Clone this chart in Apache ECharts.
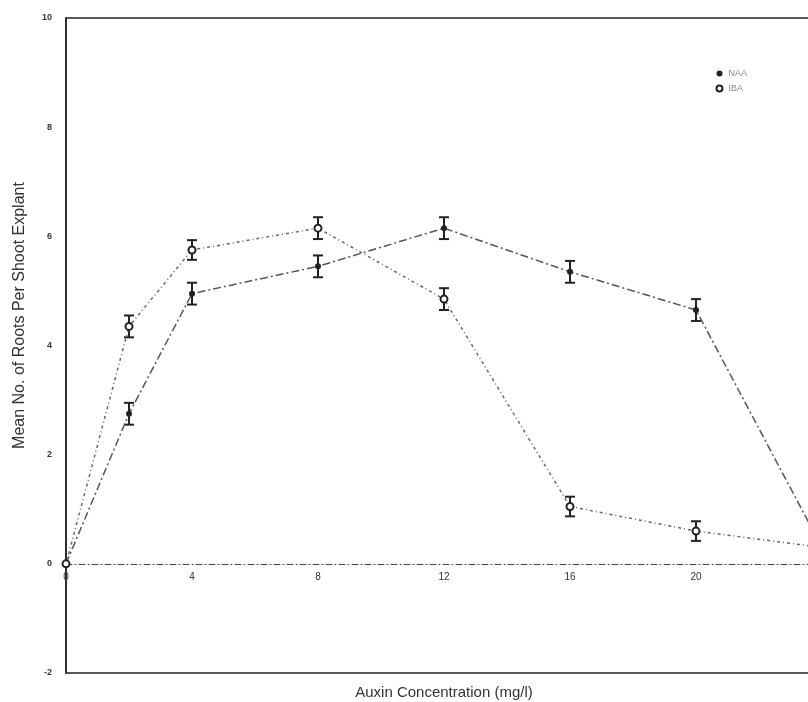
<!DOCTYPE html>
<html>
<head>
<meta charset="utf-8">
<script src="https://cdn.jsdelivr.net/npm/echarts@6/dist/echarts.min.js"></script>
<style>
html,body{margin:0;padding:0;background:#fff;}
#main{width:808px;height:702px;}
</style>
</head>
<body>
<div id="main"></div>
<script>
// auxin concentration (mg/l)
var concentration = [0, 2, 4, 8, 12, 16, 20, 24];
// mean roots per shoot explant, with standard error
var naaMean = [0, 2.75, 4.95, 5.45, 6.15, 5.35, 4.65, 0.3];
var naaErr  = [0, 0.2, 0.2, 0.2, 0.2, 0.2, 0.2, 0];
var ibaMean = [0, 4.35, 5.75, 6.15, 4.85, 1.05, 0.6, 0.3];
var ibaErr  = [0, 0.2, 0.18, 0.2, 0.2, 0.18, 0.18, 0];
var xTicks = [0, 4, 8, 12, 16, 20, 24];
var yTicks = [-2, 0, 2, 4, 6, 8, 10];

function pairs(xs, ys){
    var out = [];
    for (var i = 0; i < xs.length; i++) out.push([xs[i], ys[i]]);
    return out;
}
function errData(xs, ys, es){
    var out = [];
    for (var i = 0; i < xs.length; i++) {
        if (es[i] > 0) out.push([xs[i], ys[i] - es[i], ys[i] + es[i]]);
    }
    return out;
}
function renderErr(params, api){
    var lo = api.coord([api.value(0), api.value(1)]);
    var hi = api.coord([api.value(0), api.value(2)]);
    var w = 5;
    var st = {stroke: '#222', lineWidth: 2};
    return {
        type: 'group',
        children: [
            {type: 'line', shape: {x1: lo[0], y1: lo[1], x2: hi[0], y2: hi[1]}, style: st},
            {type: 'line', shape: {x1: lo[0]-w, y1: lo[1], x2: lo[0]+w, y2: lo[1]}, style: st},
            {type: 'line', shape: {x1: hi[0]-w, y1: hi[1], x2: hi[0]+w, y2: hi[1]}, style: st}
        ]
    };
}

var dom = document.getElementById('main');
var myChart = echarts.init(dom);
var option = {
    animation: false,
    textStyle: {fontFamily: 'Liberation Sans, Arial, sans-serif'},
    grid: {
        left: 66, top: 18, bottom: 29, right: -14,
        outerBoundsMode: 'none',
        containLabel: false,
        show: true, borderColor: '#222', borderWidth: 1.5
    },
    legend: {
        orient: 'vertical',
        right: 56,
        top: 64,
        itemWidth: 8,
        itemHeight: 6,
        itemGap: 6,
        textStyle: {fontSize: 9, color: '#888'},
        data: [{name: 'NAA', icon: 'circle'}, {name: 'IBA', icon: 'emptyCircle'}]
    },
    xAxis: {
        type: 'value',
        min: 0, max: 24, interval: 4,
        name: 'Auxin Concentration (mg/l)',
        nameLocation: 'middle',
        nameGap: 12,
        nameTextStyle: {fontSize: 15, color: '#333'},
        axisLine: {onZero: true, lineStyle: {color: '#444', type: [6, 3, 1, 3], width: 1}},
        axisTick: {show: false},
        splitLine: {show: false},
        axisLabel: {
            fontSize: 10, color: '#333', margin: -101,
            formatter: function(v){ return xTicks.indexOf(v) >= 0 ? String(v) : ''; }
        }
    },
    yAxis: {
        type: 'value',
        min: -2, max: 10, interval: 2,
        name: 'Mean No. of Roots Per Shoot Explant',
        nameLocation: 'middle',
        nameGap: 38,
        nameTextStyle: {fontSize: 16, color: '#333', padding: [0, 0, 0, 60]},
        axisLine: {show: true, onZero: false, lineStyle: {color: '#222', width: 1.5}},
        axisTick: {show: false},
        splitLine: {show: false},
        axisLabel: {
            fontSize: 9, color: '#333', margin: 14, fontWeight: 'bold',
            formatter: function(v){ return yTicks.indexOf(v) >= 0 ? String(v) : ''; }
        }
    },
    series: [
        {
            name: 'NAA',
            type: 'line',
            data: pairs(concentration, naaMean),
            symbol: 'circle',
            symbolSize: 6,
            itemStyle: {color: '#222'},
            lineStyle: {color: '#555', width: 1.5, type: [8, 3, 2, 3]},
            z: 3
        },
        {
            name: 'IBA',
            type: 'line',
            data: pairs(concentration, ibaMean),
            symbol: 'emptyCircle',
            symbolSize: 7,
            itemStyle: {color: '#222', borderWidth: 1.5},
            lineStyle: {color: '#666', width: 1.5, type: [3, 3, 1, 3]},
            z: 3
        },
        {
            name: 'NAA err',
            type: 'custom',
            renderItem: renderErr,
            data: errData(concentration, naaMean, naaErr),
            z: 2
        },
        {
            name: 'IBA err',
            type: 'custom',
            renderItem: renderErr,
            data: errData(concentration, ibaMean, ibaErr),
            z: 2
        }
    ]
};
myChart.setOption(option, true);
</script>
</body>
</html>
